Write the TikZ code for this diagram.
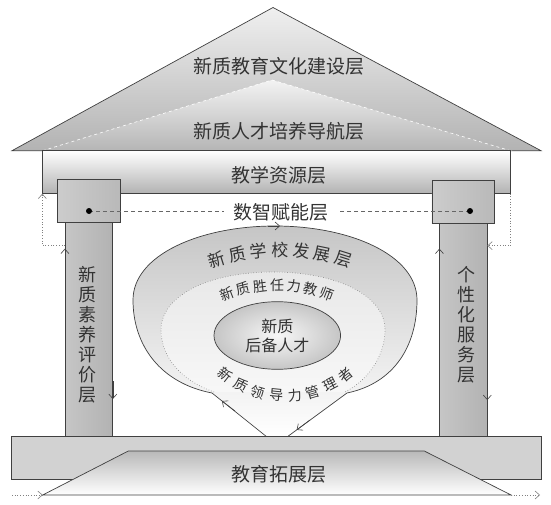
\documentclass[tikz,border=0pt]{standalone}
\usepackage{fontspec}
\setmainfont{Noto Sans CJK SC}
\usetikzlibrary{arrows.meta,shapes.geometric}

\begin{document}
\begin{tikzpicture}[x=1pt,y=-1pt,
    >={Straight Barb[length=4.5pt,width=8pt,line width=0.6pt]},
    outline/.style={draw=black!75,line width=0.7pt},
    title/.style={text=black!80,inner sep=1pt,font=\fontsize{19}{19}\selectfont},
    arcchar/.style={text=black!80,inner sep=0pt,font=\fontsize{#1}{#1}\selectfont},
    flow/.style={draw=black!75,line width=0.6pt,->},
    dotflow/.style={draw=gray,dotted,line width=0.7pt,->},
    beambox/.style={outline,top color=white,bottom color=gray!60,
        minimum width=467.6pt,minimum height=42.6pt,inner sep=0pt},
    capbox/.style={outline,left color=gray!40,middle color=gray!4,right color=gray!55,
        minimum width=62.5pt,minimum height=43pt,inner sep=0pt},
    shaftbox/.style={outline,left color=gray!45,middle color=gray!8,right color=gray!60,
        minimum width=47.2pt,minimum height=221.7pt,inner sep=0pt},
]
\useasboundingbox (0,0) rectangle (551,505);

% Roof
\draw[outline,top color=gray!12,bottom color=gray!60]
    (12,150.7) -- (273,7.5) -- (541,150.7) -- cycle;
\draw[draw=white,dashed,line width=0.6pt,top color=gray!10,bottom color=gray!58]
    (42.7,150.7) -- (272,80) -- (510.3,150.7) -- cycle;
\node[title] (cultureTxt) at (279,66) {新质教育文化建设层};
\node[title] (guideTxt) at (279,131) {新质人才培养导航层};

% Beam, pillars and capitals
\node[beambox] (beam) at (276.5,172) {};
\node[title] (resTxt) at (279,175) {教学资源层};
\node[shaftbox] (shaftL) at (88.85,325.85) {};
\node[shaftbox] (shaftR) at (463.35,325.85) {};
\node[capbox] (capL) at (88.85,201) {};
\node[capbox] (capR) at (463.1,202) {};

% Flows along the pillars
\draw[flow] ([yshift=-52pt]shaftL.north west) -- ([yshift=-34pt]shaftL.north west);
\draw[flow] ([yshift=56pt]shaftL.south east) -- ([yshift=38pt]shaftL.south east);
\draw[flow] ([yshift=-52pt]shaftR.north west) -- ([yshift=-34pt]shaftR.north west);
\draw[flow] ([yshift=55pt]shaftR.south east) -- ([yshift=37pt]shaftR.south east);
\draw[dotflow] ([yshift=-31pt]shaftL.north west) -| (beam.south west);
\draw[dotflow] (beam.south east) |- ([yshift=-31pt]shaftR.north east);

\node[arcchar=18,align=center,font=\fontsize{18}{20}\selectfont] (evalTxt) at (87,335)
    {新\\质\\素\\养\\评\\价\\层};
\node[arcchar=18,align=center,font=\fontsize{18}{20}\selectfont] (servTxt) at (466,325)
    {个\\性\\化\\服\\务\\层};

% Digital layer
\coordinate (ldot) at (89,211);
\coordinate (rdot) at (470,211);
\node[title] (digiTxt) at (281,212) {数智赋能层};
\draw[gray!80!black,dash pattern=on 4pt off 3pt,line width=0.8pt,shorten >=8pt]
    (ldot) -- (ldot -| digiTxt.west);
\draw[gray!80!black,dash pattern=on 4pt off 3pt,line width=0.8pt,shorten >=8pt]
    (rdot) -- (rdot -| digiTxt.east);
\fill (ldot) circle (3pt);
\fill (rdot) circle (3pt);

% Funnel
\coordinate (fL) at (267,437);
\coordinate (fR) at (287,437);
\draw[outline,top color=gray!45,bottom color=white]
    (fL) -- (212,393) .. controls (160,383) and (133,345) .. (133,300)
    .. controls (133,255) and (200,226) .. (275,226)
    .. controls (350,226) and (417,255) .. (417,300)
    .. controls (417,345) and (395,383) .. (347,393) -- (fR) -- cycle;
\draw[gray,dotted,line width=0.6pt,top color=gray!18,bottom color=gray!6]
    (214,392) .. controls (175,378) and (161,352) .. (161,330)
    .. controls (161,295) and (210,272) .. (273,272)
    .. controls (336,272) and (385,295) .. (385,330)
    .. controls (385,352) and (372,378) .. (345,392);
\node[ellipse,outline,inner color=gray!6,outer color=gray!45,
    minimum width=126.6pt,minimum height=67.6pt,align=center,
    text=black!80,font=\fontsize{16}{19}\selectfont] (core) at (277.3,335.5) {新质\\后备人才};
\draw[flow] (268,226) -- (280,226);
\draw[flow] (235,411) -- (222,401);
\draw[flow] (310,420) -- (296.7,429.9);

\foreach \c [count=\i from 0] in {新,质,学,校,发,展,层}
    \path (280,460) ++({-107.5+5.83*\i}:210)
        node[arcchar=17,rotate={17.5-5.83*\i}] (sch\i) {\c};
\foreach \c [count=\i from 0] in {新,质,胜,任,力,教,师}
    \path (277,425) ++({-111+7*\i}:140)
        node[arcchar=14,rotate={21-7*\i}] (tch\i) {\c};
\foreach \c [count=\i from 0] in {新,质,领,导,力,管,理,者}
    \path (285.5,300) ++({128.6-11.03*\i}:96)
        node[arcchar=14,rotate={-38.6+11.03*\i}] (mgr\i) {\c};

% Base slab and expansion layer
\node[outline,fill=gray!35,minimum width=529.3pt,minimum height=42.6pt] (slab) at (276.35,458) {};
\coordinate (trBL) at (42.7,495);
\coordinate (trBR) at (511,495);
\draw[outline,top color=gray!55,bottom color=white]
    (trBL) -- (128.3,451) -- (424.3,451) -- (trBR) -- cycle;
\node[title] (expTxt) at (279,474) {教育拓展层};
\coordinate (inL) at (12,495);
\coordinate (outR) at (540,495);
\draw[dotflow] (inL) -- (trBL);
\draw[dotflow] (trBR) -- (outR);
\end{tikzpicture}
\end{document}
